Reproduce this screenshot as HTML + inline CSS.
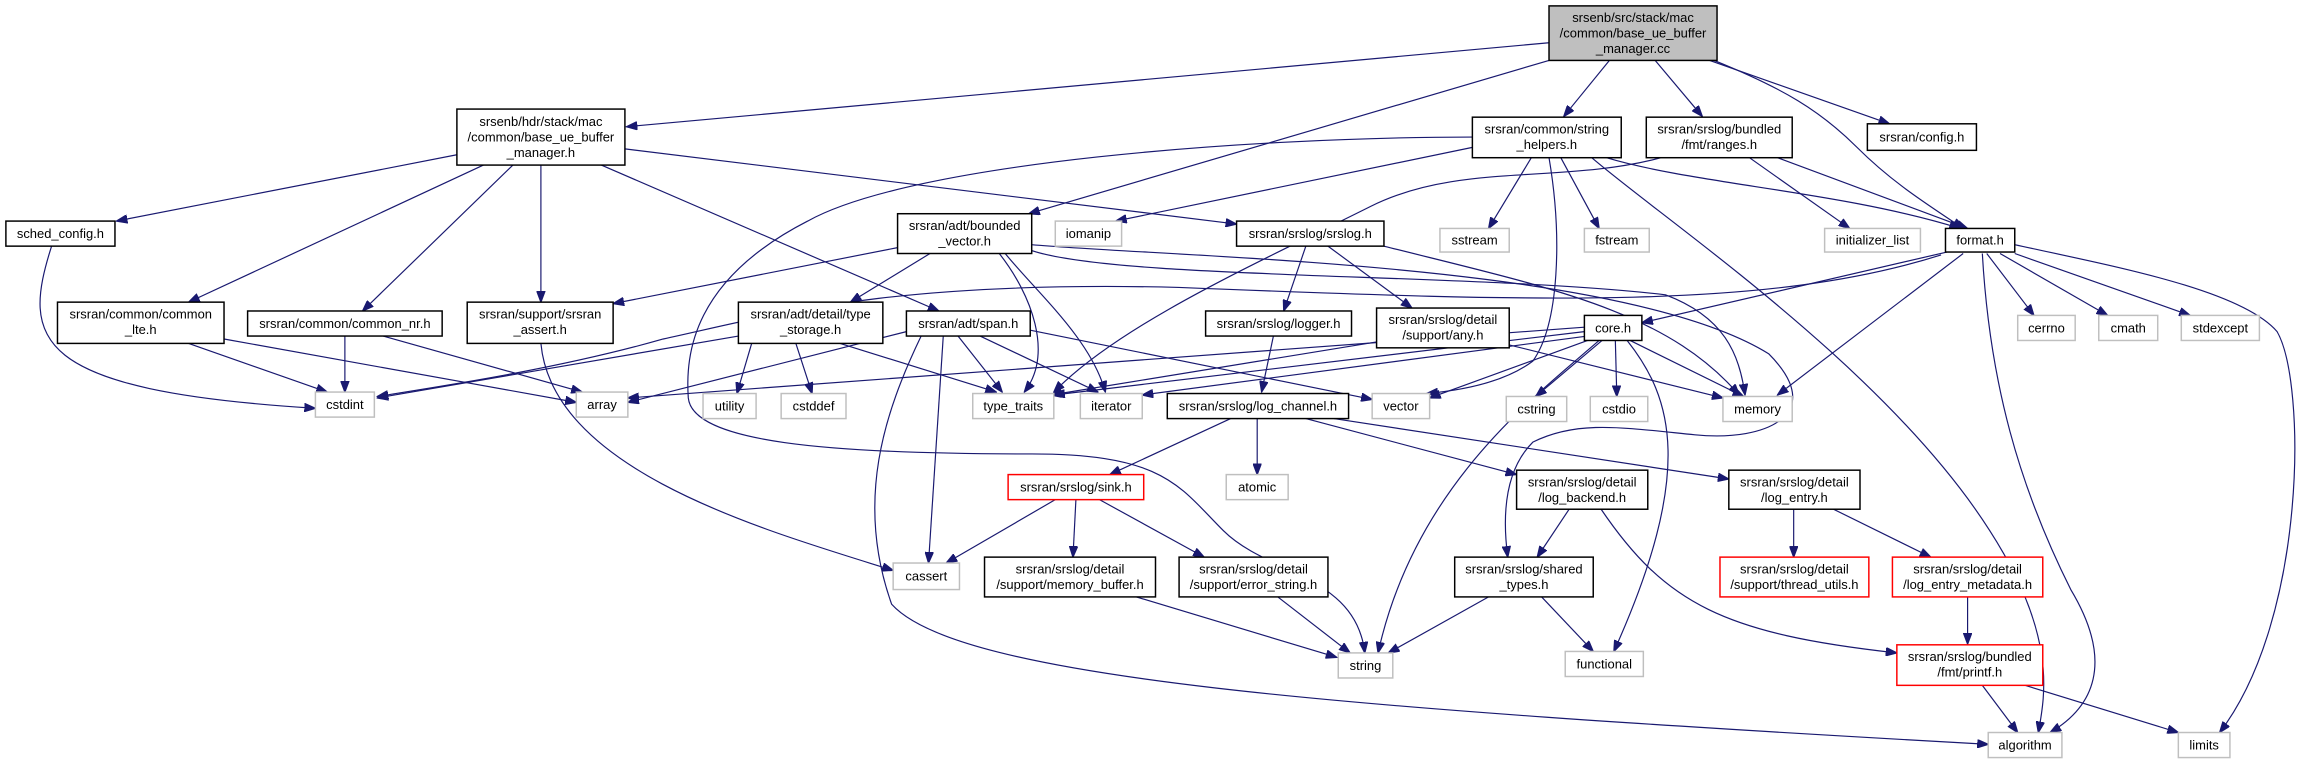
<!DOCTYPE html>
<html><head><meta charset="utf-8"><style>
html,body{margin:0;padding:0;background:#fff;}
svg{display:block;}
text{font-family:"Liberation Sans",Arial,sans-serif;font-size:8.8px;fill:#000;text-anchor:middle;}
.n{fill:#fff;stroke:#000;stroke-width:1;}
.g{fill:#fff;stroke:#bfbfbf;stroke-width:1;}
.r{fill:#fff;stroke:#ff0000;stroke-width:1;}
.e{fill:none;stroke:#191970;stroke-width:0.8;marker-end:url(#a);}
</style></head><body>
<svg width="2311" height="767" viewBox="0 0 1568 520.4" preserveAspectRatio="none" xmlns="http://www.w3.org/2000/svg">
<defs><marker id="a" markerUnits="userSpaceOnUse" markerWidth="8" markerHeight="6" refX="7.5" refY="3" orient="auto"><path d="M0,0 L8,3 L0,6 z" fill="#191970" stroke="#191970" stroke-width="0.5"/></marker></defs>

<path class="e" d="M1051,29 L425,86"/>
<path class="e" d="M1051,41 L698,145"/>
<path class="e" d="M1092,41 L1061,79"/>
<path class="e" d="M1123,41 L1155,79"/>
<path class="e" d="M1160,41 L1282,84"/>
<path class="e" d="M1163,41 C1210,60 1235,75 1260,100 C1285,125 1310,140 1332,155"/>
<path class="e" d="M310,105 L79,150"/>
<path class="e" d="M328,112 L128,205"/>
<path class="e" d="M348,112 L246,211"/>
<path class="e" d="M367,112 L367,205"/>
<path class="e" d="M408,112 L637,211"/>
<path class="e" d="M424,101 L839,152"/>
<path class="e" d="M609,168 L416,206"/>
<path class="e" d="M631,172 L577,205"/>
<path class="e" d="M678,172 C700,200 715,240 695,266"/>
<path class="e" d="M682,172 C705,200 740,230 750,266"/>
<path class="e" d="M700,170 C760,190 1000,185 1130,200 C1170,215 1180,240 1184,268"/>
<path class="e" d="M700,166 C800,175 1100,178 1200,240 C1240,280 1200,300 1150,295 C1100,290 1070,285 1040,300 C1025,315 1018,340 1023,378"/>
<path class="e" d="M999,100 L757,150"/>
<path class="e" d="M999,93 C850,93 620,110 548,150 C470,190 465,240 467,270 C470,300 560,308 700,308 C790,308 800,330 830,360 C860,390 920,390 926,443"/>
<path class="e" d="M1127,107 C1060,125 990,110 930,140 C850,180 760,220 715,266"/>
<path class="e" d="M1039,107 L1010,155"/>
<path class="e" d="M1059,107 L1085,155"/>
<path class="e" d="M1051,107 C1060,160 1058,220 1040,245 C1020,260 990,265 968,267"/>
<path class="e" d="M1080,107 C1130,150 1280,250 1350,360 C1395,430 1388,470 1383,497"/>
<path class="e" d="M1090,107 C1150,125 1250,130 1330,155"/>
<path class="e" d="M1206,107 L1335,155"/>
<path class="e" d="M1187,107 L1255,155"/>
<path class="e" d="M1321,171 L1114,219"/>
<path class="e" d="M1317,173 C1200,210 1050,205 800,195 C600,190 520,215 450,230 C380,250 300,262 256,269"/>
<path class="e" d="M1332,172 L1206,268"/>
<path class="e" d="M1348,172 L1380,214"/>
<path class="e" d="M1357,172 L1430,214"/>
<path class="e" d="M1367,172 L1486,214"/>
<path class="e" d="M1367,166 C1430,180 1520,196 1545,225 C1565,260 1565,420 1506,497"/>
<path class="e" d="M1345,172 C1350,260 1370,330 1405,400 C1435,450 1420,480 1391,497"/>
<path class="e" d="M886,167 L871,211"/>
<path class="e" d="M901,167 L958,209"/>
<path class="e" d="M939,167 C1050,195 1130,210 1180,268"/>
<path class="e" d="M864,228 L856,266"/>
<path class="e" d="M934,232 L713,268"/>
<path class="e" d="M1024,234 L1169,270"/>
<path class="e" d="M1075,222 L426,270"/>
<path class="e" d="M1075,225 L715,268"/>
<path class="e" d="M1077,228 L775,268"/>
<path class="e" d="M1080,230 L970,270"/>
<path class="e" d="M1085,231 C1040,270 960,330 935,443"/>
<path class="e" d="M1087,231 L1042,269"/>
<path class="e" d="M1096,231 L1097,269"/>
<path class="e" d="M1106,231 L1183,269"/>
<path class="e" d="M1104,231 C1135,270 1150,320 1095,442"/>
<path class="e" d="M501,228 L256,270"/>
<path class="e" d="M510,233 L500,267"/>
<path class="e" d="M540,233 L551,267"/>
<path class="e" d="M570,233 L676,266"/>
<path class="e" d="M615,225 L426,273"/>
<path class="e" d="M650,228 L680,266"/>
<path class="e" d="M665,228 L745,266"/>
<path class="e" d="M699,224 L931,271"/>
<path class="e" d="M640,228 L630,382"/>
<path class="e" d="M625,228 C600,280 580,340 605,410 C650,460 900,480 1349,505"/>
<path class="e" d="M234,228 L234,266"/>
<path class="e" d="M260,228 L395,266"/>
<path class="e" d="M128,233 L222,266"/>
<path class="e" d="M152,230 L391,273"/>
<path class="e" d="M35,167 C15,230 20,265 214,277"/>
<path class="e" d="M367,233 C375,320 520,360 606,387"/>
<path class="e" d="M835,284 L753,322"/>
<path class="e" d="M853,284 L853,322"/>
<path class="e" d="M886,284 L1029,322"/>
<path class="e" d="M905,284 L1173,325"/>
<path class="e" d="M716,339 L642,382"/>
<path class="e" d="M730,339 L728,378"/>
<path class="e" d="M746,339 L817,378"/>
<path class="e" d="M771,405 L907,446"/>
<path class="e" d="M867,405 L916,443"/>
<path class="e" d="M1010,405 L942,443"/>
<path class="e" d="M1046,405 L1081,442"/>
<path class="e" d="M1065,345 L1043,378"/>
<path class="e" d="M1086,345 C1130,410 1170,430 1287,443"/>
<path class="e" d="M1217,345 L1217,378"/>
<path class="e" d="M1243,345 L1310,378"/>
<path class="e" d="M1335,405 L1335,437"/>
<path class="e" d="M1345,465 L1369,497"/>
<path class="e" d="M1374,465 L1478,497"/>

<rect x="1051" y="4" width="114" height="37" fill="#bfbfbf" stroke="#000" stroke-width="1"/>
<text x="1108" y="15">srsenb/src/stack/mac</text><text x="1108" y="25.5">/common/base_ue_buffer</text><text x="1108" y="36">_manager.cc</text>

<rect class="n" x="310" y="74" width="114" height="38"/>
<text x="367" y="85.5">srsenb/hdr/stack/mac</text><text x="367" y="96">/common/base_ue_buffer</text><text x="367" y="106.5">_manager.h</text>

<rect class="n" x="999" y="79.5" width="101" height="27.5"/>
<text x="1049.5" y="90.5">srsran/common/string</text><text x="1049.5" y="101">_helpers.h</text>
<rect class="n" x="1117" y="79.5" width="99" height="27.5"/>
<text x="1166.5" y="90.5">srsran/srslog/bundled</text><text x="1166.5" y="101">/fmt/ranges.h</text>
<rect class="n" x="1267" y="84" width="74" height="18"/><text x="1304" y="96">srsran/config.h</text>

<rect class="n" x="4" y="150" width="74" height="17"/><text x="41" y="161.5">sched_config.h</text>
<rect class="n" x="609" y="145" width="91" height="27"/>
<text x="654.5" y="156">srsran/adt/bounded</text><text x="654.5" y="166.5">_vector.h</text>
<rect class="g" x="716" y="150" width="45" height="17"/><text x="738.5" y="161.5">iomanip</text>
<rect class="n" x="839" y="150" width="100" height="17"/><text x="889" y="161.5">srsran/srslog/srslog.h</text>
<rect class="g" x="977" y="155" width="47" height="16"/><text x="1000.5" y="166">sstream</text>
<rect class="g" x="1075" y="155" width="44" height="16"/><text x="1097" y="166">fstream</text>
<rect class="g" x="1238" y="155" width="65" height="16"/><text x="1270.5" y="166">initializer_list</text>
<rect class="n" x="1320" y="155" width="47" height="16"/><text x="1343.5" y="166">format.h</text>

<rect class="n" x="39" y="205" width="113" height="28"/>
<text x="95.5" y="216">srsran/common/common</text><text x="95.5" y="226.5">_lte.h</text>
<rect class="n" x="168" y="211" width="132" height="17"/><text x="234" y="222.5">srsran/common/common_nr.h</text>
<rect class="n" x="317" y="205" width="99" height="28"/>
<text x="366.5" y="216">srsran/support/srsran</text><text x="366.5" y="226.5">_assert.h</text>
<rect class="n" x="501" y="205" width="98" height="28"/>
<text x="550" y="216">srsran/adt/detail/type</text><text x="550" y="226.5">_storage.h</text>
<rect class="n" x="615" y="211" width="84" height="17"/><text x="657" y="222.5">srsran/adt/span.h</text>
<rect class="n" x="818" y="211" width="99" height="17"/><text x="867.5" y="222.5">srsran/srslog/logger.h</text>
<rect class="n" x="934" y="209" width="90" height="27"/>
<text x="979" y="220">srsran/srslog/detail</text><text x="979" y="230.5">/support/any.h</text>
<rect class="n" x="1075" y="214" width="39" height="17"/><text x="1094.5" y="225.5">core.h</text>
<rect class="g" x="1369" y="214" width="39" height="17"/><text x="1388.5" y="225.5">cerrno</text>
<rect class="g" x="1424" y="214" width="40" height="17"/><text x="1444" y="225.5">cmath</text>
<rect class="g" x="1480" y="214" width="53" height="17"/><text x="1506.5" y="225.5">stdexcept</text>

<rect class="g" x="214" y="266" width="40" height="17"/><text x="234" y="277.5">cstdint</text>
<rect class="g" x="391" y="266" width="35" height="17"/><text x="408.5" y="277.5">array</text>
<rect class="g" x="477" y="267" width="36" height="17"/><text x="495" y="278.5">utility</text>
<rect class="g" x="530" y="267" width="44" height="17"/><text x="552" y="278.5">cstddef</text>
<rect class="g" x="660" y="267" width="55" height="17"/><text x="687.5" y="278.5">type_traits</text>
<rect class="g" x="733" y="267" width="42" height="17"/><text x="754" y="278.5">iterator</text>
<rect class="n" x="792" y="267" width="123" height="17"/><text x="853.5" y="278.5">srsran/srslog/log_channel.h</text>
<rect class="g" x="931" y="267" width="39" height="17"/><text x="950.5" y="278.5">vector</text>
<rect class="g" x="1022" y="269" width="41" height="17"/><text x="1042.5" y="280.5">cstring</text>
<rect class="g" x="1079" y="269" width="39" height="17"/><text x="1098.5" y="280.5">cstdio</text>
<rect class="g" x="1169" y="269" width="47" height="17"/><text x="1192.5" y="280.5">memory</text>

<rect class="r" x="684" y="322" width="92" height="17"/><text x="730" y="333.5">srsran/srslog/sink.h</text>
<rect class="g" x="832" y="322" width="42" height="17"/><text x="853" y="333.5">atomic</text>
<rect class="n" x="1029" y="319" width="89" height="26.5"/>
<text x="1073.5" y="330">srsran/srslog/detail</text><text x="1073.5" y="340.5">/log_backend.h</text>
<rect class="n" x="1173" y="319" width="89" height="26.5"/>
<text x="1217.5" y="330">srsran/srslog/detail</text><text x="1217.5" y="340.5">/log_entry.h</text>

<rect class="g" x="606" y="382" width="45" height="18"/><text x="628.5" y="394">cassert</text>
<rect class="n" x="668" y="378" width="116" height="27"/>
<text x="726" y="389">srsran/srslog/detail</text><text x="726" y="399.5">/support/memory_buffer.h</text>
<rect class="n" x="800" y="378" width="101" height="27"/>
<text x="850.5" y="389">srsran/srslog/detail</text><text x="850.5" y="399.5">/support/error_string.h</text>
<rect class="n" x="987" y="378" width="94" height="27"/>
<text x="1034" y="389">srsran/srslog/shared</text><text x="1034" y="399.5">_types.h</text>
<rect class="r" x="1167" y="378" width="101" height="27"/>
<text x="1217.5" y="389">srsran/srslog/detail</text><text x="1217.5" y="399.5">/support/thread_utils.h</text>
<rect class="r" x="1284" y="378" width="102" height="27"/>
<text x="1335" y="389">srsran/srslog/detail</text><text x="1335" y="399.5">/log_entry_metadata.h</text>

<rect class="g" x="908" y="443" width="37" height="17"/><text x="926.5" y="454.5">string</text>
<rect class="g" x="1062" y="442" width="53" height="17"/><text x="1088.5" y="453.5">functional</text>
<rect class="r" x="1287" y="437.5" width="99" height="27.5"/>
<text x="1336.5" y="448.5">srsran/srslog/bundled</text><text x="1336.5" y="459">/fmt/printf.h</text>
<rect class="g" x="1349" y="497" width="50" height="17"/><text x="1374" y="508.5">algorithm</text>
<rect class="g" x="1478" y="497" width="35" height="17"/><text x="1495.5" y="508.5">limits</text>
</svg>
</body></html>
